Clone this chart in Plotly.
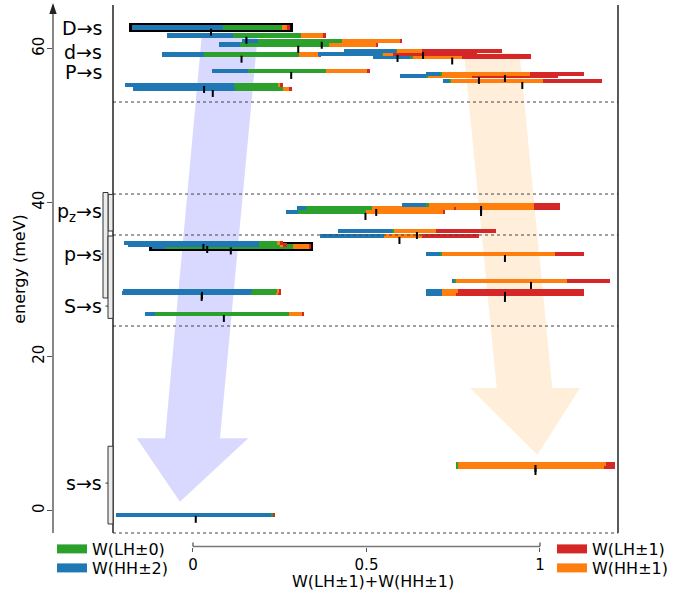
import plotly.graph_objects as go

# ---------------- data ----------------
energies = [62.70, 61.65, 61.00, 60.49, 59.68, 59.29, 59.19, 58.96, 57.08, 56.69,
            56.43, 55.78, 55.26, 54.74,
            39.68, 39.28, 39.29, 38.77, 36.30, 35.65, 34.74, 34.48, 33.31, 34.29,
            29.81, 28.51, 28.51, 28.25, 28.12, 25.52,
            6.04, 5.65, -0.56]
w_hh2 = [.577, .416, .099, .133, .333, .408, .266, .234, .226, .095, .170, .038, .692, .639,
         .151, .151, .057, .075, .342, .405, .849, .824, .088, .082,
         .013, .816, .101, .804, .101, .063,
         .000, .000, .975]
w_lh0 = [.371, .430, .530, .563, .004, .003, .595, .019, .491, .006, .006, .013, .277, .303,
         .019, .019, .415, .428, .013, .000, .121, .135, .013, .809,
         .013, .158, .000, .171, .000, .848,
         .013, .013, .017]
w_hh1 = [.033, .135, .365, .297, .158, .063, .127, .310, .262, .557, .283, .582, .013, .038,
         .667, .667, .522, .491, .266, .234, .012, .018, .717, .103,
         .703, .013, .101, .006, .088, .083,
         .930, .918, .000]
w_lh1 = [.019, .019, .006, .006, .505, .527, .013, .437, .021, .342, .541, .367, .019, .019,
         .164, .164, .006, .006, .380, .361, .018, .023, .182, .006,
         .272, .013, .799, .019, .811, .006,
         .057, .070, .008]
highlighted = [True] + [False] * 22 + [True] + [False] * 9

y_ticks = [0, 20, 40, 60]
x_ticks = [0, 0.5, 1]
x_tick_labels = ["0", "0.5", "1"]
separators = [53.05, 41.10, 35.78, 23.96]

group_labels = ["D→s", "d→s", "P→s", "p<sub>z</sub>→s", "p→s", "S→s", "s→s"]
group_label_E = [62.65, 59.53, 56.93, 38.75, 33.30, 26.55, 3.56]

# brackets: (E_top, E_bottom, E_tick, column)
brackets = [(41.05, 36.30, 38.75, 1), (41.30, 27.60, 33.30, 0),
            (35.65, 24.95, 26.55, 1), (8.35, -1.75, 3.56, 1)]

# ---------------- styling ----------------
C_HH2, C_LH0, C_HH1, C_LH1 = "#1f77b4", "#2ca02c", "#ff7f0e", "#d62728"
BAR_LEN = 0.457     # bar length in x units
BAR_H = 0.6         # bar thickness in meV
W, H = 697, 599
ML, MR, MT, MB = 40, 40, 5, 40
PW, PH = W - ML - MR, H - MT - MB


def px(x):
    return (x - ML) / PW


def py(y):
    return (H - MB - y) / PH


X_RANGE = [-0.2305, 1.2248]
Y_RANGE = [-2.92, 65.65]

fig = go.Figure()

# big guide arrows (decoration, data coordinates)
arrows = [
    (dict(x=[0.0259, 0.1873, 0.0778, 0.1594, -0.0375, -0.1622, -0.0807],
          y=[62.01, 62.01, 9.38, 9.38, 1.14, 9.38, 9.38]), "rgba(0,0,255,0.15)"),
    (dict(x=[0.7810, 0.9409, 1.0354, 1.1153, 0.9922, 0.7983, 0.8752],
          y=[59.45, 59.45, 15.91, 15.91, 7.21, 15.91, 15.91]), "rgba(255,140,0,0.15)"),
]
shapes = []
for pts, col in arrows:
    path = "M " + " L ".join(f"{a},{b}" for a, b in zip(pts["x"], pts["y"])) + " Z"
    shapes.append(dict(type="path", path=path, xref="x", yref="y", fillcolor=col,
                       line=dict(width=0), layer="below"))

# bars, drawn in ascending energy order
order = sorted(range(len(energies)), key=lambda i: energies[i])
tick_x, tick_y = [], []
for i in order:
    ws = [w_hh2[i], w_lh0[i], w_hh1[i], w_lh1[i]]
    s = sum(ws)
    ws = [v / s for v in ws]
    centre = ws[2] + ws[3]
    left = centre - BAR_LEN / 2
    bases, lens = [], []
    acc = left
    for v in ws:
        bases.append(acc)
        lens.append(v * BAR_LEN)
        acc += v * BAR_LEN
    if highlighted[i]:
        fig.add_trace(go.Bar(orientation="h", y=[energies[i]], x=[BAR_LEN + 0.016],
                             base=[left - 0.008], width=BAR_H + 0.55,
                             marker=dict(color="black", line=dict(width=0)),
                             showlegend=False, hoverinfo="skip"))
    fig.add_trace(go.Bar(orientation="h", y=[energies[i]] * 4, x=lens, base=bases,
                         width=BAR_H, marker=dict(color=[C_HH2, C_LH0, C_HH1, C_LH1],
                                                  line=dict(width=0)),
                         showlegend=False, hoverinfo="skip"))
    tick_x.append(centre)
    tick_y.append(energies[i] - 0.58)

fig.add_trace(go.Scatter(x=tick_x, y=tick_y, mode="markers",
                         marker=dict(symbol="line-ns", size=5,
                                     line=dict(width=2, color="black")),
                         showlegend=False, hoverinfo="skip"))

# legend entries, one legend box each
legend_items = [("W(LH±0)", C_LH0, 52, 532), ("W(HH±2)", C_HH2, 52, 551),
                ("W(LH±1)", C_LH1, 552, 532), ("W(HH±1)", C_HH1, 552, 551)]
legend_layout = {}
for k, (name, col, lx, ly) in enumerate(legend_items):
    key = "legend" if k == 0 else f"legend{k + 1}"
    fig.add_trace(go.Scatter(x=[None], y=[None], mode="lines", name=name,
                             line=dict(color=col, width=9), legend=key))
    legend_layout[key] = dict(x=px(lx), y=py(ly), xanchor="left", yanchor="top",
                              font=dict(size=16), bgcolor="rgba(0,0,0,0)",
                              itemclick=False, itemdoubleclick=False)

# separators
for e in separators:
    shapes.append(dict(type="line", xref="x domain", x0=0, x1=1, yref="y", y0=e, y1=e,
                       line=dict(color="#444", width=1, dash="dot"), layer="above"))
# frame: solid left/right, dotted bottom
for xd in (0, 1):
    shapes.append(dict(type="line", xref="x domain", x0=xd, x1=xd, yref="y domain",
                       y0=0, y1=1, line=dict(color="black", width=1.3)))
shapes.append(dict(type="line", xref="x domain", x0=0, x1=1, yref="y domain", y0=0, y1=0,
                   line=dict(color="#444", width=1, dash="dot")))
# bottom scale line from 0 to 1, with end caps
XAX_POS = py(546.5)
shapes.append(dict(type="line", xref="x", x0=0, x1=1, yref="paper", y0=XAX_POS,
                   y1=XAX_POS, line=dict(color="#777", width=1.5)))
for xv in (x_ticks[0], x_ticks[-1]):
    shapes.append(dict(type="line", xref="x", x0=xv, x1=xv, yref="paper",
                       y0=XAX_POS, y1=XAX_POS + 4 / PH, line=dict(color="#555", width=1.3)))
# y axis arrow head
shapes.append(dict(type="path", xref="paper", yref="paper",
                   path=f"M {px(53)},{py(3)} L {px(49.3)},{py(14)} L {px(56.7)},{py(14)} Z",
                   fillcolor="#222", line=dict(width=0)))

# brackets
col_x = [(103, 108), (108, 113)]
for e_top, e_bot, e_tick, c in brackets:
    x0, x1 = col_x[c]
    shapes.append(dict(type="rect", xref="paper", yref="y", x0=px(x0), x1=px(x1),
                       y0=e_bot, y1=e_top, fillcolor="#ececec",
                       line=dict(color="#333", width=1)))
    shapes.append(dict(type="line", xref="paper", yref="y", x0=px(x0 - 2.5), x1=px(x0),
                       y0=e_tick, y1=e_tick, line=dict(color="#333", width=1)))

annotations = []
for txt, e in zip(group_labels, group_label_E):
    annotations.append(dict(text=txt, xref="paper", yref="y", x=px(104), y=e,
                            xanchor="right", yanchor="middle", showarrow=False,
                            font=dict(size=19, color="black")))
# x-axis title
annotations.append(dict(text="W(LH±1)+W(HH±1)", xref="paper", yref="paper",
                        x=px(373), y=py(581), xanchor="center", yanchor="middle",
                        showarrow=False, font=dict(size=16, color="black")))

fig.update_layout(
    width=W, height=H, margin=dict(l=ML, r=MR, t=MT, b=MB, autoexpand=False),
    paper_bgcolor="white", plot_bgcolor="rgba(0,0,0,0)",
    font=dict(family="DejaVu Sans", color="black"),
    barmode="overlay", bargap=0,
    shapes=shapes, annotations=annotations,
    xaxis=dict(domain=[px(113), px(618)], range=X_RANGE, anchor="free",
               position=XAX_POS, showline=False, showgrid=False, zeroline=False,
               tickvals=x_ticks, ticktext=x_tick_labels, ticks="outside", ticklen=4,
               tickcolor="#555", tickwidth=1.3, tickfont=dict(size=15), automargin=False),
    yaxis=dict(domain=[py(533), 1], range=Y_RANGE, anchor="free", position=px(53),
               showline=True, linecolor="#888", linewidth=1.5, showgrid=False,
               zeroline=False, tickvals=y_ticks, ticks="outside", ticklen=5,
               tickcolor="#555", tickwidth=1.3, tickangle=-90, tickfont=dict(size=15),
               ticklabelstandoff=-3, automargin=False,
               title=dict(text="energy (meV)", font=dict(size=16), standoff=0)),
    **legend_layout,
)

fig.write_html("out.html", config={"displayModeBar": False},
               post_script="document.body.style.margin='0px';")
